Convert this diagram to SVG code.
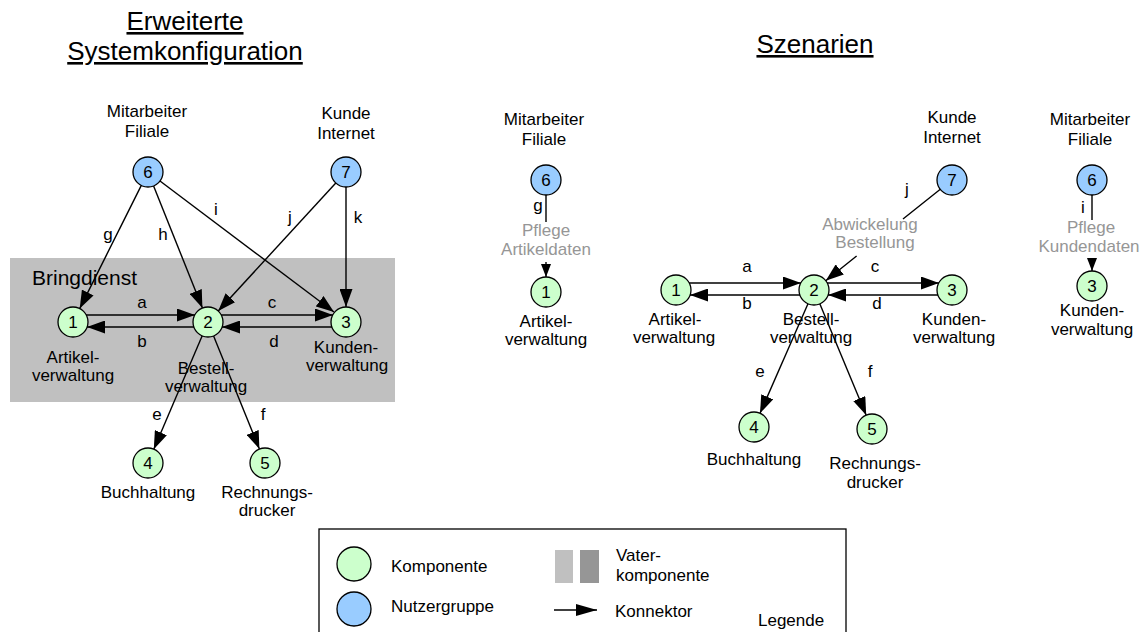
<svg xmlns="http://www.w3.org/2000/svg" width="1142" height="632" viewBox="0 0 1142 632">
  <style>
    text { font-family: "Liberation Sans", Arial, Helvetica, sans-serif; fill: #000; }
    .t { font-size: 17px; text-anchor: middle; }
    .tl { font-size: 17px; }
    .title { font-size: 26px; text-anchor: middle; text-decoration: underline; }
    .gray { font-size: 17px; text-anchor: middle; fill: #969696; }
    .comp { fill: #ccffcc; stroke: #000; stroke-width: 1.3; }
    .user { fill: #99ccff; stroke: #000; stroke-width: 1.3; }
    .conn { fill: none; stroke: #000; stroke-width: 1.4; }
    .arrow { marker-end: url(#ah); }
    .arrow-s { marker-end: url(#ahs); }
    .arrow-l { marker-end: url(#ahl); }
  </style>
  <defs>
    <marker id="ah" viewBox="0 0 18 13" refX="18" refY="6.5" markerWidth="18" markerHeight="13" markerUnits="userSpaceOnUse" orient="auto">
      <path d="M0,0 L18,6.5 L0,13 z" fill="#000"/>
    </marker>
    <marker id="ahs" viewBox="0 0 13 10" refX="13" refY="5" markerWidth="13" markerHeight="10" markerUnits="userSpaceOnUse" orient="auto">
      <path d="M0,0 L13,5 L0,10 z" fill="#000"/>
    </marker>
    <marker id="ahl" viewBox="0 0 21 12" refX="21" refY="6" markerWidth="21" markerHeight="12" markerUnits="userSpaceOnUse" orient="auto">
      <path d="M0,0 L21,6 L0,12 z" fill="#000"/>
    </marker>
  </defs>

  <rect width="1142" height="632" fill="#fff"/>

  <!-- headings -->
  <text class="title" x="185" y="30">Erweiterte</text>
  <text class="title" x="185" y="60">Systemkonfiguration</text>
  <text class="title" x="815" y="53">Szenarien</text>

  <!-- ===== extended system configuration ===== -->
  <g id="bringdienst">
    <rect x="10" y="258" width="385" height="144" fill="#c0c0c0"/>
    <text x="32" y="285" style="font-size:21px">Bringdienst</text>
  </g>

  <g id="sys-node6">
    <text class="t" x="147" y="117">Mitarbeiter</text>
    <text class="t" x="147" y="137">Filiale</text>
    <circle class="user" cx="148" cy="172" r="15"/>
    <text class="t" x="148" y="178">6</text>
  </g>
  <g id="sys-node7">
    <text class="t" x="346" y="119">Kunde</text>
    <text class="t" x="346" y="139">Internet</text>
    <circle class="user" cx="346" cy="172" r="15"/>
    <text class="t" x="346" y="178">7</text>
  </g>
  <g id="sys-node1">
    <circle class="comp" cx="73" cy="322" r="15"/>
    <text class="t" x="73" y="328">1</text>
    <text class="t" x="73" y="363">Artikel-</text>
    <text class="t" x="73" y="381">verwaltung</text>
  </g>
  <g id="sys-node2">
    <circle class="comp" cx="208" cy="322" r="15"/>
    <text class="t" x="208" y="328">2</text>
    <text class="t" x="206" y="374">Bestell-</text>
    <text class="t" x="206" y="392">verwaltung</text>
  </g>
  <g id="sys-node3">
    <circle class="comp" cx="346" cy="322" r="15"/>
    <text class="t" x="346" y="328">3</text>
    <text class="t" x="346" y="353">Kunden-</text>
    <text class="t" x="347" y="371">verwaltung</text>
  </g>
  <g id="sys-node4">
    <circle class="comp" cx="148" cy="463" r="15"/>
    <text class="t" x="148" y="469">4</text>
    <text class="t" x="148" y="498">Buchhaltung</text>
  </g>
  <g id="sys-node5">
    <circle class="comp" cx="265" cy="463" r="15"/>
    <text class="t" x="265" y="469">5</text>
    <text class="t" x="267" y="498">Rechnungs-</text>
    <text class="t" x="267" y="516">drucker</text>
  </g>

  <g id="sys-connectors">
    <path class="conn arrow" d="M141.3,185.4 L79.7,308.6"/>
    <path class="conn arrow" d="M153.6,185.9 L202.4,308.1"/>
    <path class="conn arrow" d="M160,181 L334,312"/>
    <path class="conn arrow" d="M335.8,183 L218.2,311"/>
    <path class="conn arrow" d="M346,187 L346,307"/>
    <path class="conn arrow" d="M86,315 H195"/>
    <path class="conn arrow" d="M194,327 H87"/>
    <path class="conn arrow" d="M221,315 H333"/>
    <path class="conn arrow" d="M332,327 H222"/>
    <path class="conn arrow" d="M202.2,335.8 L153.8,449.2"/>
    <path class="conn arrow" d="M213.6,335.9 L259.4,449.1"/>
    <text class="t" x="108" y="240">g</text>
    <text class="t" x="163" y="240">h</text>
    <text class="t" x="216" y="215">i</text>
    <text class="t" x="290" y="223">j</text>
    <text class="t" x="358" y="223">k</text>
    <text class="t" x="142" y="308">a</text>
    <text class="t" x="142" y="347">b</text>
    <text class="t" x="272" y="308">c</text>
    <text class="t" x="274" y="347">d</text>
    <text class="t" x="157" y="420">e</text>
    <text class="t" x="263" y="420">f</text>
  </g>

  <!-- ===== scenario: maintain article data ===== -->
  <g id="sc1-node6">
    <text class="t" x="544" y="125">Mitarbeiter</text>
    <text class="t" x="544" y="145">Filiale</text>
    <circle class="user" cx="546" cy="180" r="15"/>
    <text class="t" x="546" y="186">6</text>
  </g>
  <g id="sc1-node1">
    <circle class="comp" cx="546" cy="292" r="15"/>
    <text class="t" x="546" y="298">1</text>
    <text class="t" x="546" y="327">Artikel-</text>
    <text class="t" x="546" y="345">verwaltung</text>
  </g>
  <g id="sc1-connectors">
    <path class="conn arrow-s" d="M546,195 V222 M546,262 V277"/>
    <text class="t" x="538" y="211">g</text>
    <text class="gray" x="546" y="236">Pflege</text>
    <text class="gray" x="546" y="255">Artikeldaten</text>
  </g>

  <!-- ===== scenario: order processing ===== -->
  <g id="sc2-node7">
    <text class="t" x="952" y="123">Kunde</text>
    <text class="t" x="952" y="143">Internet</text>
    <circle class="user" cx="952" cy="180" r="15"/>
    <text class="t" x="952" y="186">7</text>
  </g>
  <g id="sc2-node1">
    <circle class="comp" cx="676" cy="290" r="15"/>
    <text class="t" x="676" y="296">1</text>
    <text class="t" x="675" y="325">Artikel-</text>
    <text class="t" x="674" y="343">verwaltung</text>
  </g>
  <g id="sc2-node2">
    <circle class="comp" cx="814" cy="290" r="15"/>
    <text class="t" x="814" y="296">2</text>
    <text class="t" x="811" y="325">Bestell-</text>
    <text class="t" x="811" y="343">verwaltung</text>
  </g>
  <g id="sc2-node3">
    <circle class="comp" cx="952" cy="290" r="15"/>
    <text class="t" x="952" y="296">3</text>
    <text class="t" x="954" y="325">Kunden-</text>
    <text class="t" x="954" y="343">verwaltung</text>
  </g>
  <g id="sc2-node4">
    <circle class="comp" cx="754" cy="427" r="15"/>
    <text class="t" x="754" y="433">4</text>
    <text class="t" x="754" y="465">Buchhaltung</text>
  </g>
  <g id="sc2-node5">
    <circle class="comp" cx="872" cy="429" r="15"/>
    <text class="t" x="872" y="435">5</text>
    <text class="t" x="875" y="469">Rechnungs-</text>
    <text class="t" x="875" y="488">drucker</text>
  </g>
  <g id="sc2-connectors">
    <path class="conn arrow" d="M940.3,189.3 L903,219 M856.6,256 L825.7,280.7"/>
    <path class="conn arrow" d="M689,283 H801"/>
    <path class="conn arrow" d="M800,295 H690"/>
    <path class="conn arrow" d="M827,283 H939"/>
    <path class="conn arrow" d="M938,295 H828"/>
    <path class="conn arrow" d="M808,303.7 L760,413.3"/>
    <path class="conn arrow" d="M819.8,303.8 L866.2,415.2"/>
    <text class="t" x="907" y="195">j</text>
    <text class="gray" x="870" y="230">Abwickelung</text>
    <text class="gray" x="875" y="248">Bestellung</text>
    <text class="t" x="747" y="272">a</text>
    <text class="t" x="747" y="309">b</text>
    <text class="t" x="875" y="272">c</text>
    <text class="t" x="877" y="309">d</text>
    <text class="t" x="760" y="377">e</text>
    <text class="t" x="870" y="377">f</text>
  </g>

  <!-- ===== scenario: maintain customer data ===== -->
  <g id="sc3-node6">
    <text class="t" x="1090" y="125">Mitarbeiter</text>
    <text class="t" x="1090" y="145">Filiale</text>
    <circle class="user" cx="1092" cy="180" r="15"/>
    <text class="t" x="1092" y="186">6</text>
  </g>
  <g id="sc3-node3">
    <circle class="comp" cx="1092" cy="286" r="15"/>
    <text class="t" x="1092" y="292">3</text>
    <text class="t" x="1092" y="316">Kunden-</text>
    <text class="t" x="1092" y="335">verwaltung</text>
  </g>
  <g id="sc3-connectors">
    <path class="conn arrow-s" d="M1092,195 V220 M1092,258 V271"/>
    <text class="t" x="1083" y="213">i</text>
    <text class="gray" x="1091" y="233">Pflege</text>
    <text class="gray" x="1089" y="252">Kundendaten</text>
  </g>

  <!-- ===== legend ===== -->
  <g id="legend">
    <rect x="319" y="529" width="527" height="112" fill="#fff" stroke="#000" stroke-width="1.3"/>
    <circle class="comp" cx="354" cy="564" r="17"/>
    <circle class="user" cx="354" cy="609" r="17"/>
    <text class="tl" x="391" y="572">Komponente</text>
    <text class="tl" x="391" y="612">Nutzergruppe</text>
    <rect x="555" y="550" width="18" height="33" fill="#c0c0c0"/>
    <rect x="580" y="550" width="19" height="33" fill="#969696"/>
    <text class="tl" x="616" y="561">Vater-</text>
    <text class="tl" x="616" y="581">komponente</text>
    <path class="conn arrow-l" d="M554,610 H597"/>
    <text class="tl" x="615" y="617">Konnektor</text>
    <text class="tl" x="758" y="626">Legende</text>
  </g>
</svg>
